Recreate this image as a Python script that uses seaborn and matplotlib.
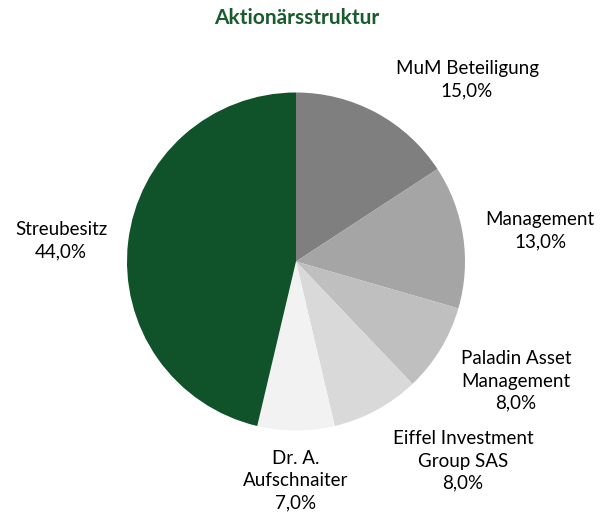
import matplotlib
matplotlib.use("Agg")
import matplotlib.pyplot as plt
import seaborn as sns

sns.set_theme(style="white")
plt.rcParams['font.family'] = ['Lato', 'DejaVu Sans']

# data
holders = ["MuM Beteiligung", "Management", "Paladin Asset\nManagement",
           "Eiffel Investment\nGroup SAS", "Dr. A.\nAufschnaiter", "Streubesitz"]
shares = [15.0, 13.0, 8.0, 8.0, 7.0, 44.0]
colors = ["#7f7f7f", "#a5a5a5", "#bfbfbf", "#d9d9d9", "#f2f2f2", "#10532b"]
title = "Aktionärsstruktur"

# label anchor positions (pixels, from top-left)
label_pos = [(467, 80), (540, 231), (516, 381), (463, 461), (296, 481), (61, 241)]

W, H = 606, 519
fig = plt.figure(figsize=(W / 100, H / 100), dpi=100)
ax = fig.add_axes([0, 0, 1, 1])

ax.pie(shares, colors=colors, startangle=90, counterclock=False,
       center=(296, H - 261.5), radius=169, frame=True,
       wedgeprops=dict(linewidth=0))
ax.set_xlim(0, W)
ax.set_ylim(0, H)
ax.set_aspect("equal")
ax.axis("off")

for name, val, (x, y) in zip(holders, shares, label_pos):
    txt = name + "\n" + f"{val:.1f}".replace(".", ",") + "%"
    ax.text(x, H - y, txt, ha="center", va="center", fontsize=13.5,
            color="#000000", linespacing=1.38)

ax.text(297, H - 18, title, ha="center", va="center", fontsize=15,
        fontweight="bold", color="#1a5c2e")

fig.savefig("out.png", dpi=100)
